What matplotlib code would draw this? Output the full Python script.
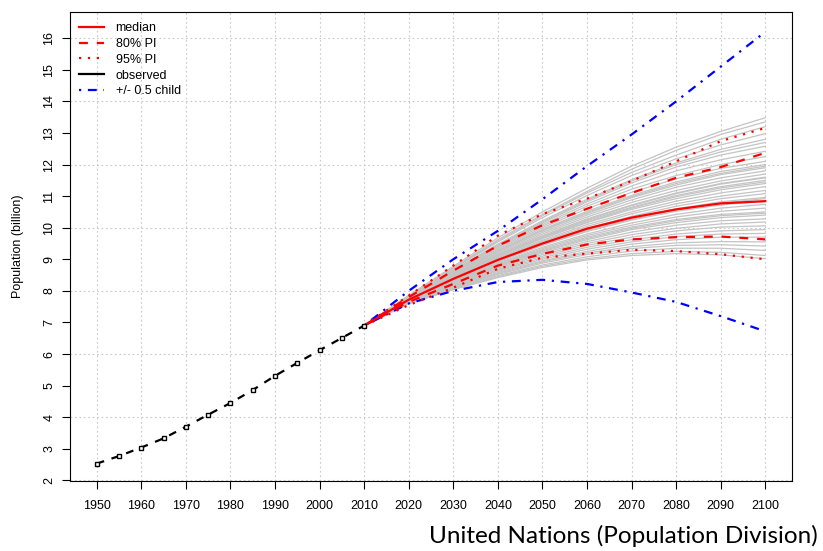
import matplotlib
matplotlib.use("Agg")
import matplotlib.pyplot as plt
from matplotlib.lines import Line2D

plt.rcParams['font.family'] = ['Liberation Sans', 'DejaVu Sans']

# observed world population (billion), every 5 years
obs_years = [1950, 1955, 1960, 1965, 1970, 1975, 1980, 1985, 1990, 1995, 2000, 2005, 2010]
obs_pop = [2.53, 2.77, 3.04, 3.33, 3.70, 4.08, 4.45, 4.86, 5.31, 5.72, 6.12, 6.51, 6.90]

# projections, 2010..2100 by decade
proj_years = [2010, 2020, 2030, 2040, 2050, 2060, 2070, 2080, 2090, 2100]
median = [6.90, 7.72, 8.38, 8.98, 9.50, 9.97, 10.32, 10.58, 10.77, 10.84]
pi80_hi = [6.90, 7.80, 8.64, 9.43, 10.08, 10.60, 11.10, 11.58, 11.92, 12.37]
pi80_lo = [6.90, 7.65, 8.22, 8.80, 9.17, 9.47, 9.63, 9.70, 9.72, 9.63]
pi95_hi = [6.90, 7.85, 8.80, 9.75, 10.43, 10.92, 11.48, 12.10, 12.74, 13.16]
pi95_lo = [6.90, 7.55, 8.10, 8.70, 9.05, 9.18, 9.30, 9.26, 9.16, 9.00]
child_hi = [6.90, 8.00, 9.00, 9.90, 10.90, 11.95, 12.95, 14.00, 15.10, 16.20]
child_lo = [6.90, 7.60, 8.00, 8.28, 8.35, 8.22, 7.95, 7.65, 7.20, 6.72]

# sample trajectories (2020..2100), all start at 6.90 in 2010
trajectories = [
    [7.86, 8.78, 9.68, 10.50, 11.25, 11.95, 12.55, 13.05, 13.48],
    [7.84, 8.74, 9.62, 10.42, 11.15, 11.85, 12.45, 12.95, 13.35],
    [7.83, 8.72, 9.58, 10.38, 11.10, 11.75, 12.30, 12.80, 13.20],
    [7.82, 8.70, 9.55, 10.32, 11.02, 11.65, 12.18, 12.62, 12.98],
    [7.81, 8.66, 9.48, 10.22, 10.90, 11.52, 12.05, 12.48, 12.80],
    [7.80, 8.64, 9.45, 10.18, 10.86, 11.48, 12.00, 12.40, 12.70],
    [7.80, 8.63, 9.42, 10.15, 10.82, 11.42, 11.92, 12.30, 12.58],
    [7.80, 8.62, 9.40, 10.10, 10.75, 11.32, 11.80, 12.15, 12.42],
    [7.79, 8.60, 9.36, 10.05, 10.68, 11.22, 11.65, 12.00, 12.25],
    [7.78, 8.58, 9.32, 10.00, 10.60, 11.12, 11.55, 11.88, 12.10],
    [7.78, 8.56, 9.28, 9.95, 10.52, 11.02, 11.45, 11.78, 12.00],
    [7.77, 8.55, 9.27, 9.92, 10.48, 10.98, 11.40, 11.72, 11.95],
    [7.77, 8.54, 9.25, 9.90, 10.45, 10.95, 11.35, 11.68, 11.90],
    [7.76, 8.52, 9.22, 9.85, 10.40, 10.88, 11.28, 11.58, 11.80],
    [7.76, 8.50, 9.18, 9.80, 10.34, 10.80, 11.18, 11.48, 11.70],
    [7.75, 8.48, 9.15, 9.75, 10.28, 10.72, 11.10, 11.40, 11.60],
    [7.75, 8.47, 9.13, 9.72, 10.25, 10.70, 11.08, 11.38, 11.58],
    [7.75, 8.46, 9.12, 9.70, 10.22, 10.65, 11.02, 11.30, 11.50],
    [7.74, 8.45, 9.10, 9.68, 10.18, 10.62, 10.98, 11.26, 11.45],
    [7.74, 8.44, 9.08, 9.65, 10.16, 10.58, 10.92, 11.20, 11.40],
    [7.73, 8.42, 9.05, 9.60, 10.10, 10.50, 10.84, 11.10, 11.30],
    [7.73, 8.40, 9.02, 9.56, 10.04, 10.44, 10.76, 11.00, 11.18],
    [7.72, 8.38, 8.98, 9.52, 9.98, 10.36, 10.68, 10.92, 11.08],
    [7.72, 8.36, 8.95, 9.48, 9.93, 10.30, 10.60, 10.82, 10.96],
    [7.71, 8.35, 8.93, 9.46, 9.90, 10.27, 10.56, 10.78, 10.92],
    [7.71, 8.34, 8.92, 9.44, 9.88, 10.24, 10.52, 10.72, 10.85],
    [7.70, 8.32, 8.88, 9.38, 9.80, 10.15, 10.42, 10.62, 10.74],
    [7.70, 8.30, 8.85, 9.34, 9.75, 10.08, 10.34, 10.52, 10.62],
    [7.69, 8.28, 8.82, 9.30, 9.70, 10.02, 10.26, 10.42, 10.50],
    [7.69, 8.27, 8.80, 9.27, 9.66, 9.98, 10.22, 10.38, 10.46],
    [7.68, 8.26, 8.78, 9.24, 9.62, 9.94, 10.16, 10.32, 10.40],
    [7.68, 8.24, 8.75, 9.20, 9.56, 9.86, 10.08, 10.22, 10.28],
    [7.67, 8.22, 8.72, 9.15, 9.50, 9.78, 9.98, 10.12, 10.18],
    [7.66, 8.20, 8.68, 9.10, 9.44, 9.70, 9.90, 10.02, 10.06],
    [7.66, 8.18, 8.65, 9.05, 9.38, 9.62, 9.80, 9.90, 9.94],
    [7.65, 8.16, 8.62, 9.00, 9.32, 9.55, 9.72, 9.80, 9.82],
    [7.64, 8.14, 8.58, 8.95, 9.25, 9.48, 9.62, 9.70, 9.70],
    [7.63, 8.12, 8.55, 8.92, 9.20, 9.40, 9.52, 9.56, 9.55],
    [7.62, 8.10, 8.52, 8.88, 9.15, 9.34, 9.44, 9.46, 9.42],
    [7.61, 8.08, 8.48, 8.82, 9.08, 9.26, 9.35, 9.35, 9.28],
    [7.60, 8.05, 8.45, 8.78, 9.02, 9.18, 9.25, 9.22, 9.12],
    [7.60, 8.04, 8.42, 8.74, 8.98, 9.12, 9.18, 9.14, 9.02],
]

x_ticks = list(range(1950, 2101, 10))
y_ticks = list(range(2, 17))

W, H = 823, 551
fig = plt.figure(figsize=(W / 100, H / 100), dpi=100)
ax = fig.add_axes([70 / W, 1 - 481 / H, 722 / W, 469 / H])

# grid first
for xv in x_ticks:
    ax.axvline(xv, color='#c8c8c8', lw=0.8, ls=(0, (1.5, 2.5)), zorder=0)
for yv in range(2, 17, 2):
    ax.axhline(yv, color='#c8c8c8', lw=0.8, ls=(0, (1.5, 2.5)), zorder=0)

for tr in trajectories:
    ax.plot(proj_years, [6.90] + tr, color='#c4c4c4', lw=0.9, zorder=1)

lw = 1.6
ax.plot(proj_years, child_hi, color='blue', lw=lw, ls=(0, (1, 3, 4, 3)), zorder=2)
ax.plot(proj_years, child_lo, color='blue', lw=lw, ls=(0, (1, 3, 4, 3)), zorder=2)
ax.plot(proj_years, pi95_hi, color='red', lw=lw, ls=(0, (1, 3)), zorder=3)
ax.plot(proj_years, pi95_lo, color='red', lw=lw, ls=(0, (1, 3)), zorder=3)
ax.plot(proj_years, pi80_hi, color='red', lw=lw, ls=(0, (4, 4)), zorder=3)
ax.plot(proj_years, pi80_lo, color='red', lw=lw, ls=(0, (4, 4)), zorder=3)
ax.plot(proj_years, median, color='red', lw=lw, zorder=4)
ax.plot(obs_years, obs_pop, color='black', lw=lw, ls=(0, (3.5, 3.5)), marker='s',
        ms=3, mfc='white', mec='black', mew=1.0, zorder=5)

ax.set_xlim(1944, 2106)
ax.set_ylim(1.98, 16.83)
ax.set_xticks(x_ticks)
ax.set_yticks(y_ticks)
ax.set_yticklabels([str(v) for v in y_ticks], rotation=90, va='center')
ax.tick_params(axis='x', length=5.5, width=0.8, pad=8, labelsize=9)
ax.tick_params(axis='y', length=5.5, width=0.8, pad=5, labelsize=9)
for s in ax.spines.values():
    s.set_linewidth(0.8)
ax.set_ylabel('Population (billion)', fontsize=9, labelpad=14)

handles = [
    Line2D([], [], color='red', lw=lw),
    Line2D([], [], color='red', lw=lw, ls=(0, (4, 4))),
    Line2D([], [], color='red', lw=lw, ls=(0, (1, 3))),
    Line2D([], [], color='black', lw=lw),
    Line2D([], [], color='blue', lw=lw, ls=(0, (1, 3, 4, 3))),
]
labels = ['median', '80% PI', '95% PI', 'observed', '+/- 0.5 child']
ax.legend(handles, labels, loc='upper left', bbox_to_anchor=(0.013, 0.978),
          frameon=False, fontsize=9, handlelength=2.0, handletextpad=0.9,
          labelspacing=0.3, borderpad=0, borderaxespad=0)

fig.text(818 / W, 1 - 536 / H, 'United Nations (Population Division)',
         ha='right', va='center', fontsize=17.5, family=['Lato', 'DejaVu Sans'])

fig.savefig('out.png', dpi=100)
